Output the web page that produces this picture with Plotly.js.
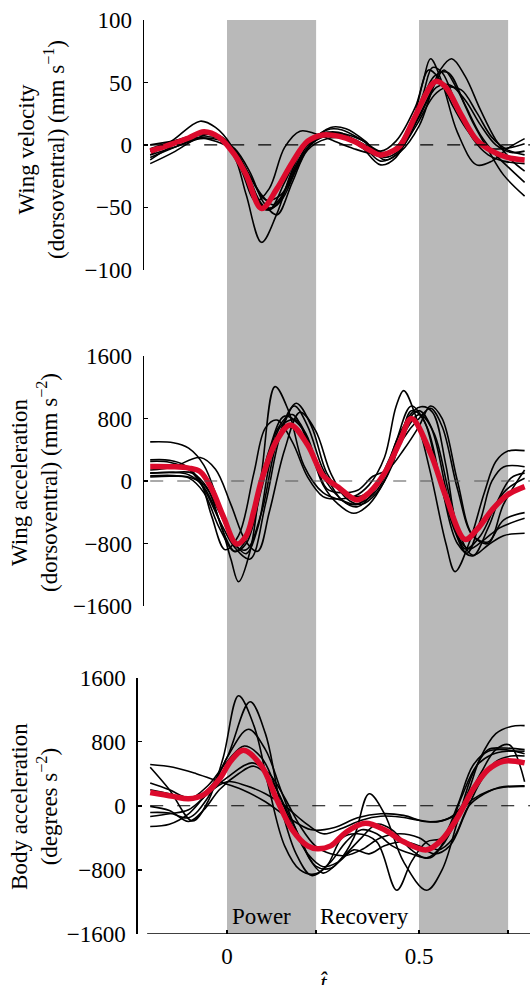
<!DOCTYPE html>
<html><head><meta charset="utf-8">
<script src="https://cdn.plot.ly/plotly-3.0.1.min.js"></script>
<style>
html,body{margin:0;padding:0;background:#fff}
#chart text{font-family:"Times New Roman",serif !important}
</style>
</head><body><div id="chart"></div>
<script>
// ---------- categories / labels ----------
const bandStarts = [0, 0.5];
const bandEnds = [0.232, 0.732];
const phaseLabels = ['Power', 'Recovery'];
const phaseLabelT = [0.091, 0.359];
const xTickVals = [0, 0.232, 0.5, 0.732];
const xTickText = ['0', ' ', '0.5', ' '];
const velTicks = [-100, -50, 0, 50, 100];
const accTicks = [-1600, -800, 0, 800, 1600];
const bodyTicks = [-1600, -800, 0, 800, 1600];
const panelTitles = [
  'Wing velocity<br>(dorsoventral) (mm s<sup>−1</sup>)',
  'Wing acceleration<br>(dorsoventral) (mm s<sup>−2</sup>)',
  'Body acceleration<br>(degrees s<sup>−2</sup>)'
];

// ---------- panel 1: wing velocity (t, mm/s) ----------
const velMean = [[-0.2,-5],[-0.15,0],[-0.1,5.5],[-0.06,10.5],[-0.02,6],[0.02,-8],[0.05,-24],[0.09,-51],[0.13,-35],[0.17,-14],[0.21,3],[0.25,8],[0.29,7],[0.33,3],[0.37,-4],[0.398,-8],[0.43,-5],[0.45,-1],[0.49,23],[0.53,47],[0.545,51],[0.57,46],[0.61,24],[0.65,4],[0.69,-5],[0.73,-10],[0.775,-12]];
const vel1 = [[-0.2,-12],[-0.12,3],[-0.06,10],[-0.02,5],[0.02,-10],[0.05,-40],[0.09,-78],[0.13,-55],[0.17,-20],[0.21,3],[0.26,10],[0.31,6],[0.36,-4],[0.4,-9],[0.44,-2],[0.49,22],[0.54,55],[0.575,58],[0.62,32],[0.66,8],[0.7,-8],[0.74,-20],[0.775,-30]];
const vel2 = [[-0.2,-8],[-0.14,4],[-0.07,19],[-0.03,14],[0.01,0],[0.04,-22],[0.075,-45],[0.11,-35],[0.15,-2],[0.19,11],[0.23,9],[0.28,3],[0.33,-3],[0.38,-7],[0.42,-6],[0.47,8],[0.51,40],[0.535,62],[0.56,58],[0.6,30],[0.64,5],[0.68,-8],[0.72,-13],[0.775,-15]];
const vel3 = [[-0.2,-5],[-0.13,3],[-0.06,9],[-0.02,6],[0.02,-5],[0.06,-30],[0.1,-50],[0.13,-48],[0.17,-22],[0.21,0],[0.26,12],[0.3,12],[0.35,4],[0.4,-6],[0.44,-3],[0.49,18],[0.53,42],[0.555,60],[0.585,69],[0.62,55],[0.66,28],[0.7,4],[0.74,-12],[0.775,-21]];
const vel4 = [[-0.2,-15],[-0.14,-6],[-0.08,5],[-0.04,9],[0.0,3],[0.04,-18],[0.08,-44],[0.11,-52],[0.15,-30],[0.19,-6],[0.24,8],[0.29,10],[0.34,2],[0.4,-16],[0.44,-10],[0.48,15],[0.51,50],[0.53,69],[0.56,50],[0.6,10],[0.65,-16],[0.69,-13],[0.73,-3],[0.775,5]];
const vel5 = [[-0.2,-10],[-0.13,-1],[-0.07,6],[-0.02,5],[0.02,-4],[0.06,-25],[0.1,-44],[0.14,-40],[0.18,-18],[0.22,1],[0.27,8],[0.32,6],[0.37,-2],[0.41,-10],[0.45,-4],[0.5,22],[0.545,46],[0.58,48],[0.62,36],[0.66,16],[0.7,0],[0.74,-6],[0.775,-5]];
const vel6 = [[-0.2,-3],[-0.13,4],[-0.07,8],[-0.02,7],[0.02,-4],[0.06,-28],[0.1,-52],[0.14,-45],[0.18,-20],[0.22,2],[0.27,14],[0.31,13],[0.36,3],[0.41,-12],[0.45,-6],[0.5,15],[0.54,48],[0.565,60],[0.6,44],[0.64,18],[0.68,-4],[0.72,-24],[0.775,-41]];
const vel7 = [[-0.2,0],[-0.12,4],[-0.08,6],[-0.03,3],[0.01,-3],[0.05,-20],[0.09,-40],[0.12,-48],[0.16,-32],[0.2,-6],[0.25,7],[0.3,9],[0.35,4],[0.4,-5],[0.44,3],[0.49,30],[0.525,60],[0.55,54],[0.59,30],[0.63,10],[0.67,-2],[0.72,-3],[0.775,1]];
const vel8 = [[-0.2,-8],[-0.13,-1],[-0.07,5],[-0.02,4],[0.02,-3],[0.06,-22],[0.095,-46],[0.13,-56],[0.17,-30],[0.21,-4],[0.26,5],[0.31,5],[0.36,-3],[0.4,-13],[0.44,-8],[0.49,14],[0.54,40],[0.57,46],[0.61,44],[0.65,26],[0.69,6],[0.73,-4],[0.775,-8]];

// ---------- panel 2: wing acceleration (t, mm/s^2) ----------
const accMean = [[-0.2,185],[-0.14,182],[-0.1,165],[-0.07,120],[-0.04,-100],[-0.01,-450],[0.025,-806],[0.05,-700],[0.07,-380],[0.09,13],[0.13,525],[0.165,717],[0.21,460],[0.25,70],[0.29,-80],[0.338,-243],[0.37,-150],[0.41,100],[0.45,500],[0.48,800],[0.53,354],[0.57,-200],[0.62,-747],[0.65,-627],[0.69,-371],[0.73,-179],[0.775,-72]];
const acc1 = [[-0.2,500],[-0.14,490],[-0.1,420],[-0.06,200],[-0.02,-300],[0.02,-820],[0.05,-880],[0.09,-400],[0.13,500],[0.175,960],[0.21,700],[0.25,150],[0.3,-250],[0.34,-330],[0.38,-150],[0.42,250],[0.46,700],[0.5,900],[0.54,600],[0.58,-200],[0.62,-870],[0.66,-700],[0.7,-300],[0.74,40],[0.775,100]];
const acc2 = [[-0.2,100],[-0.14,110],[-0.1,80],[-0.06,-80],[-0.02,-500],[0.01,-1000],[0.03,-1290],[0.06,-900],[0.09,100],[0.125,1208],[0.16,900],[0.2,200],[0.25,-150],[0.3,-250],[0.34,-300],[0.38,-100],[0.42,200],[0.46,600],[0.5,850],[0.53,700],[0.57,-100],[0.6,-700],[0.63,-870],[0.67,-750],[0.71,-600],[0.775,-478]];
const acc3 = [[-0.2,140],[-0.14,180],[-0.07,300],[-0.03,150],[0.01,-300],[0.05,-780],[0.08,-900],[0.11,-400],[0.15,400],[0.19,880],[0.23,650],[0.27,100],[0.31,-220],[0.35,-300],[0.39,-150],[0.43,200],[0.47,800],[0.505,950],[0.535,880],[0.57,200],[0.6,-600],[0.64,-950],[0.68,-820],[0.72,-700],[0.775,-670]];
const acc4 = [[-0.2,270],[-0.15,265],[-0.11,200],[-0.07,0],[-0.04,-450],[-0.005,-880],[0.03,-700],[0.07,100],[0.1,680],[0.13,780],[0.17,500],[0.21,50],[0.25,-200],[0.28,-230],[0.33,-200],[0.37,-50],[0.41,300],[0.44,950],[0.46,1156],[0.49,850],[0.53,100],[0.57,-800],[0.594,-1160],[0.63,-800],[0.67,-150],[0.7,250],[0.73,380],[0.775,388]];
const acc5 = [[-0.2,250],[-0.15,240],[-0.1,150],[-0.06,-100],[-0.02,-500],[0.02,-850],[0.06,-1000],[0.1,-300],[0.14,600],[0.18,994],[0.22,700],[0.26,100],[0.3,-150],[0.34,-200],[0.38,-100],[0.42,150],[0.46,550],[0.5,800],[0.53,930],[0.56,700],[0.6,-100],[0.64,-700],[0.68,-780],[0.72,-500],[0.775,-405]];
const acc6 = [[-0.2,65],[-0.14,70],[-0.1,40],[-0.06,-150],[-0.02,-600],[0.02,-900],[0.05,-800],[0.09,-100],[0.13,650],[0.17,850],[0.21,500],[0.25,-50],[0.29,-300],[0.33,-414],[0.37,-300],[0.41,0],[0.45,500],[0.48,900],[0.51,800],[0.55,100],[0.59,-600],[0.625,-926],[0.66,-500],[0.69,0],[0.72,180],[0.775,183]];
const acc7 = [[-0.2,50],[-0.15,60],[-0.1,50],[-0.06,-50],[-0.02,-400],[0.02,-800],[0.05,-930],[0.08,-600],[0.11,200],[0.14,700],[0.18,780],[0.22,400],[0.26,-100],[0.3,-150],[0.34,-120],[0.38,60],[0.42,150],[0.46,400],[0.5,700],[0.53,960],[0.56,800],[0.6,0],[0.64,-700],[0.68,-800],[0.72,-300],[0.775,141]];
const acc8 = [[-0.2,100],[-0.14,110],[-0.09,100],[-0.05,-100],[-0.01,-650],[0.02,-904],[0.05,-750],[0.08,-200],[0.11,400],[0.15,830],[0.2,650],[0.24,150],[0.28,-150],[0.32,-300],[0.36,-250],[0.4,-50],[0.44,500],[0.48,960],[0.52,700],[0.56,-100],[0.6,-800],[0.64,-960],[0.68,-600],[0.72,-150],[0.775,34]];

// ---------- panel 3: body acceleration (t, degrees/s^2) ----------
const bodyMean = [[-0.2,165],[-0.14,117],[-0.1,88],[-0.06,140],[-0.02,330],[0.01,560],[0.043,694],[0.09,494],[0.13,75],[0.17,-300],[0.21,-500],[0.235,-535],[0.27,-500],[0.31,-330],[0.36,-218],[0.41,-300],[0.46,-450],[0.52,-550],[0.56,-420],[0.6,-150],[0.64,200],[0.68,450],[0.72,556],[0.775,535]];
const body1 = [[-0.2,515],[-0.14,480],[-0.08,400],[-0.02,300],[0.04,200],[0.1,50],[0.16,-150],[0.22,-300],[0.28,-270],[0.34,-150],[0.4,-100],[0.46,-120],[0.52,-200],[0.58,-150],[0.62,50],[0.66,400],[0.7,700],[0.735,760],[0.775,300]];
const body2 = [[-0.2,480],[-0.15,200],[-0.09,-190],[-0.05,50],[-0.01,600],[0.03,1372],[0.07,1000],[0.11,200],[0.15,-500],[0.19,-800],[0.23,-850],[0.27,-700],[0.31,-450],[0.35,-300],[0.39,-350],[0.43,-500],[0.48,-600],[0.53,-650],[0.57,-400],[0.61,100],[0.65,500],[0.69,640],[0.73,680],[0.775,680]];
const body3 = [[-0.2,284],[-0.15,200],[-0.1,100],[-0.05,200],[0.0,600],[0.06,1297],[0.1,900],[0.14,0],[0.18,-600],[0.22,-870],[0.26,-750],[0.3,-400],[0.34,-350],[0.39,-450],[0.442,-1054],[0.48,-700],[0.52,-450],[0.56,-400],[0.6,0],[0.64,500],[0.68,680],[0.72,700],[0.775,650]];
const body4 = [[-0.2,-84],[-0.15,-90],[-0.1,-150],[-0.05,100],[0.0,600],[0.056,954],[0.1,700],[0.14,200],[0.18,-300],[0.22,-700],[0.25,-840],[0.29,-700],[0.33,-400],[0.37,150],[0.41,-100],[0.46,-700],[0.52,-1054],[0.56,-800],[0.6,-200],[0.64,400],[0.68,700],[0.72,720],[0.775,700]];
const body5 = [[-0.2,200],[-0.15,150],[-0.1,80],[-0.05,250],[0.0,550],[0.045,745],[0.09,600],[0.13,200],[0.17,-250],[0.21,-600],[0.25,-760],[0.29,-700],[0.33,-550],[0.37,-600],[0.41,-500],[0.46,-450],[0.5,-500],[0.54,-600],[0.58,-500],[0.62,-100],[0.66,300],[0.7,550],[0.74,620],[0.775,620]];
const body6 = [[-0.2,-134],[-0.15,-100],[-0.1,-50],[-0.05,150],[0.0,350],[0.065,535],[0.11,400],[0.15,100],[0.19,-250],[0.23,-500],[0.27,-600],[0.31,-620],[0.35,-550],[0.4,-400],[0.45,-350],[0.5,-400],[0.55,-550],[0.59,-400],[0.63,0],[0.67,150],[0.71,230],[0.775,250]];
const body7 = [[-0.2,-259],[-0.15,-230],[-0.1,-100],[-0.05,150],[0.0,300],[0.05,250],[0.1,150],[0.15,0],[0.2,-200],[0.25,-350],[0.3,-280],[0.35,-180],[0.4,-130],[0.45,-140],[0.5,-180],[0.55,-200],[0.6,-100],[0.64,80],[0.68,180],[0.72,230],[0.775,240]];
const body8 = [[-0.2,-8],[-0.15,-60],[-0.1,-197],[-0.06,-50],[-0.02,200],[0.03,400],[0.07,494],[0.11,350],[0.15,0],[0.19,-400],[0.23,-750],[0.27,-780],[0.31,-600],[0.35,-400],[0.39,-230],[0.43,-300],[0.48,-550],[0.52,-650],[0.56,-500],[0.6,-150],[0.63,200],[0.66,600],[0.7,900],[0.74,990],[0.775,1000]];

// ---------- build ----------
const FONT = 'Times New Roman, serif';
const RED = '#dc0a2c';
function fnt() { return {family: FONT, size: 23, color: '#000'}; }
const panels = [
  {axis: 'y', black: [vel1, vel2, vel3, vel4, vel5, vel6, vel7, vel8], mean: velMean},
  {axis: 'y2', black: [acc1, acc2, acc3, acc4, acc5, acc6, acc7, acc8], mean: accMean},
  {axis: 'y3', black: [body1, body2, body3, body4, body5, body6, body7, body8], mean: bodyMean}
];
const traces = [];
panels.forEach(p => {
  p.black.forEach(c => traces.push({
    x: c.map(d => d[0]), y: c.map(d => d[1]), xaxis: 'x', yaxis: p.axis,
    type: 'scatter', mode: 'lines', line: {color: '#000', width: 1.6, shape: 'spline', smoothing: 1},
    hoverinfo: 'skip', showlegend: false
  }));
  traces.push({
    x: p.mean.map(d => d[0]), y: p.mean.map(d => d[1]), xaxis: 'x', yaxis: p.axis,
    type: 'scatter', mode: 'lines', line: {color: RED, width: 5.5, shape: 'spline', smoothing: 1},
    hoverinfo: 'skip', showlegend: false
  });
});

const shapes = [];
bandStarts.forEach((s, i) => shapes.push({
  type: 'rect', xref: 'x', yref: 'paper', x0: s, x1: bandEnds[i], y0: 0, y1: 1,
  fillcolor: '#b9b9b9', line: {width: 0}, layer: 'below'
}));
[['y', '#000'], ['y2', '#555'], ['y3', '#000']].forEach(a => shapes.push({
  type: 'line', xref: 'x', yref: a[0], x0: -0.2, x1: 0.789, y0: 0, y1: 0,
  line: {color: a[1], width: 1.1, dash: '13px,14px'}, layer: 'above'
}));
shapes.push({type: 'line', xref: 'x', yref: 'y3', x0: -0.208, x1: 0.789, y0: -1600, y1: -1600,
  line: {color: '#000', width: 1.6}});

function yax(domain, range, ticks, extra) {
  return Object.assign({
    domain: domain, range: range, tickvals: ticks, ticks: 'inside', ticklen: 4, tickwidth: 1.5,
    tickcolor: '#000', showline: true, linecolor: '#000', linewidth: 1.6, showgrid: false,
    zeroline: false, tickfont: fnt(), ticklabelstandoff: 6
  }, extra);
}
const annotations = [];
phaseLabels.forEach((l, i) => annotations.push({
  text: l, xref: 'x', yref: 'y3', x: phaseLabelT[i], y: -1380, showarrow: false,
  font: fnt(), xanchor: 'center', yanchor: 'middle'
}));
const titleY = [0.8578, 0.4934, 0.139];
const titleShift = [-96, -104, -103];
panelTitles.forEach((t, i) => annotations.push({
  text: t, xref: 'paper', yref: 'paper', x: 0, y: titleY[i], xshift: titleShift[i],
  textangle: -90, showarrow: false, font: fnt(), xanchor: 'center', yanchor: 'middle'
}));
annotations.push({text: '<i>t̂</i>', xref: 'x', yref: 'paper', x: 0.253, y: -0.037,
  showarrow: false, font: fnt(), xanchor: 'center', yanchor: 'top'});

const layout = {
  width: 530, height: 985, margin: {l: 138, r: 0, t: 20, b: 51},
  paper_bgcolor: '#fff', plot_bgcolor: 'rgba(0,0,0,0)', showlegend: false,
  font: fnt(),
  xaxis: {domain: [0, 1], range: [-0.2318, 0.789], anchor: 'y3', tickvals: xTickVals, ticktext: xTickText,
    ticks: 'inside', ticklen: 4, tickwidth: 1.5, tickcolor: '#000', showline: false, showgrid: false,
    zeroline: false, tickfont: fnt(), ticklabelstandoff: 6},
  yaxis: yax([0.7267, 1], [-100, 100], velTicks, {anchor: 'free', position: 0.0115}),
  yaxis2: yax([0.3589, 0.6324], [-1600, 1600], accTicks, {anchor: 'free', position: 0.0115}),
  yaxis3: yax([0, 0.2806], [-1600, 1600], bodyTicks, {anchor: 'x'}),
  shapes: shapes, annotations: annotations
};
Plotly.newPlot('chart', traces, layout, {displayModeBar: false, staticPlot: true});
</script></body></html>
